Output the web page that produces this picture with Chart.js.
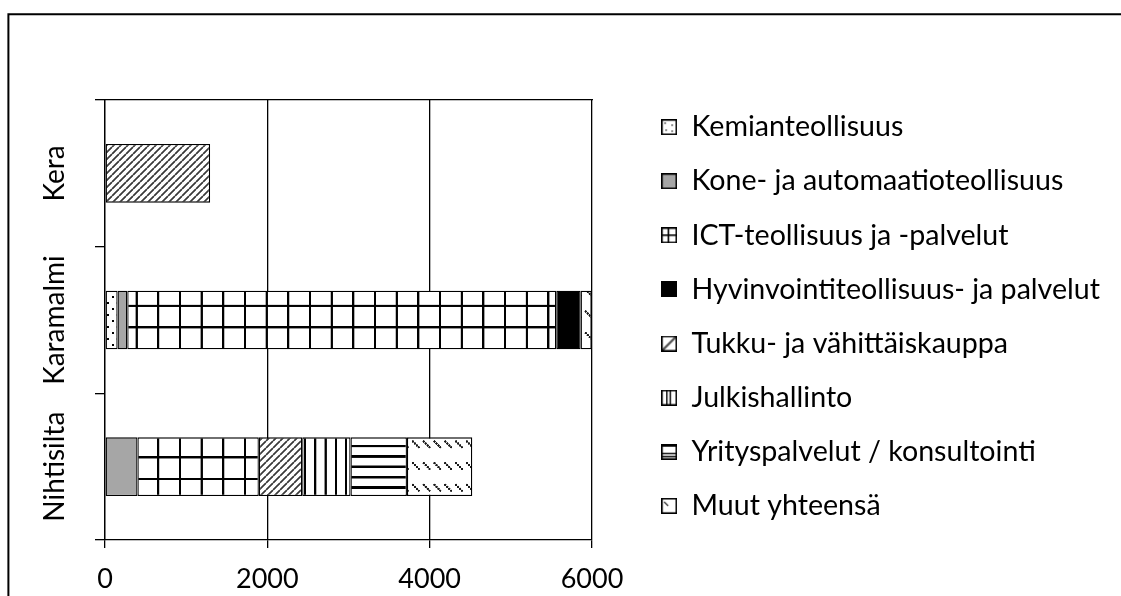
<!DOCTYPE html>
<html>
<head>
<meta charset="utf-8">
<script src="https://cdn.jsdelivr.net/npm/chart.js@4.4.1/dist/chart.umd.min.js"></script>
<style>
  html, body { margin: 0; padding: 0; background: #fff; }
  canvas { display: block; }
</style>
</head>
<body>
<canvas id="chart" width="1121" height="596"></canvas>
<script>
// Employees by sector at each campus area
const categories = ['Kera', 'Karamalmi', 'Nihtisilta'];
const sectorNames = [
  'Kemianteollisuus',
  'Kone- ja automaatioteollisuus',
  'ICT-teollisuus ja -palvelut',
  'Hyvinvointiteollisuus- ja palvelut',
  'Tukku- ja vähittäiskauppa',
  'Julkishallinto',
  'Yrityspalvelut / konsultointi',
  'Muut yhteensä'
];
const kemianteollisuus = [null, 155, null];
const koneJaAutomaatio = [null, 120, 400];
const ictPalvelut      = [null, 5285, 1495];
const hyvinvointi      = [null, 300, null];
const tukkuJaVahittais = [1295, null, 535];
const julkishallinto   = [null, null, 595];
const yrityspalvelut   = [null, null, 695];
const muutYhteensa     = [null, 135, 805];
const valueTicks = [0, 2000, 4000, 6000];

// ---- hatch fills -------------------------------------------------------
const SS = 4; // supersampling of each tile
function tilePattern(w, h, ox, oy, paint) {
  const cv = document.createElement('canvas');
  cv.width = Math.round(w * SS);
  cv.height = Math.round(h * SS);
  const g = cv.getContext('2d');
  const sx = cv.width / w, sy = cv.height / h;
  g.setTransform(sx, 0, 0, sy, 0, 0);
  g.fillStyle = '#fff';
  g.fillRect(0, 0, w, h);
  g.fillStyle = '#000';
  g.strokeStyle = '#000';
  paint(g, w, h);
  const p = g.createPattern(cv, 'repeat');
  p.setTransform(new DOMMatrix([1 / sx, 0, 0, 1 / sy, ox, oy]));
  return p;
}
function dot(g, x, y, r) { g.beginPath(); g.arc(x, y, r, 0, Math.PI * 2); g.fill(); }

const fillDots = tilePattern(9.6, 12, 0, 0, g => { dot(g, 2.4, 3, 1.15); dot(g, 7.2, 9, 1.15); });
const fillGrey = '#a6a6a6';
const fillGrid = tilePattern(21.67, 21.67, 5.5, 1.2, (g, w, h) => { g.fillRect(0, 0, 2.2, h); g.fillRect(0, 0, w, 2.2); });
const fillBlack = '#000';
const fillUpDiag = tilePattern(7, 7, 0, 0, (g, w, h) => {
  g.lineWidth = 1.6; g.strokeStyle = '#3a3a3a';
  for (let k = -1; k <= 1; k++) { g.beginPath(); g.moveTo(k * w, h); g.lineTo(k * w + w, 0); g.stroke(); }
});
const fillVert = tilePattern(10.3, 6, 5.2, 0, (g, w, h) => g.fillRect(0, 0, 2.2, h));
const fillHoriz = tilePattern(6, 10.4, 0, 7.9, (g, w) => g.fillRect(0, 0, w, 2.6));
const fillDashDown = tilePattern(10.8, 21.67, 0, 1.6, g => {
  g.fillStyle = '#1a1a1a';
  dot(g, 2.5, 6.5, 1.2); dot(g, 4.5, 8.5, 1.2); dot(g, 6.5, 10.5, 1.2); dot(g, 8.3, 12.3, 1.1);
});

// ---- small legend swatches --------------------------------------------
function swatch(paint) {
  const c = document.createElement('canvas');
  c.width = 16; c.height = 16;
  const g = c.getContext('2d');
  g.fillStyle = '#fff'; g.fillRect(0, 0, 16, 16);
  g.fillStyle = '#000'; g.strokeStyle = '#000';
  paint(g);
  g.lineWidth = 1.6; g.strokeStyle = '#000';
  g.strokeRect(0.8, 0.8, 14.4, 14.4);
  return c;
}
const swDots = swatch(g => { dot(g, 4, 4, 0.8); dot(g, 11, 6, 0.8); dot(g, 5, 11, 0.8); dot(g, 11, 12, 0.8); });
const swGrey = swatch(g => { g.fillStyle = '#a6a6a6'; g.fillRect(0, 0, 16, 16); });
const swGrid = swatch(g => { g.fillRect(6.5, 0, 1.6, 16); g.fillRect(0, 7, 16, 1.6); });
const swBlack = swatch(g => { g.fillRect(0, 0, 16, 16); });
const swUpDiag = swatch(g => { g.lineWidth = 2.4; g.strokeStyle = '#555'; g.beginPath(); g.moveTo(1, 15); g.lineTo(15, 1); g.stroke(); });
const swVert = swatch(g => { g.fillRect(5, 0, 1.4, 16); g.fillRect(8.5, 0, 1.4, 16); });
const swHoriz = swatch(g => { g.fillRect(0, 1, 16, 2); g.fillRect(0, 9, 16, 1.4); g.fillRect(0, 12, 16, 1.4); });
const swDashDown = swatch(g => { g.lineWidth = 1.3; g.strokeStyle = '#333'; g.beginPath(); g.moveTo(3, 4); g.lineTo(7, 8); g.stroke(); });

const seriesValues = [kemianteollisuus, koneJaAutomaatio, ictPalvelut, hyvinvointi, tukkuJaVahittais, julkishallinto, yrityspalvelut, muutYhteensa];
const seriesFills = [fillDots, fillGrey, fillGrid, fillBlack, fillUpDiag, fillVert, fillHoriz, fillDashDown];
const seriesSwatches = [swDots, swGrey, swGrid, swBlack, swUpDiag, swVert, swHoriz, swDashDown];

// outer frame of the chart object
const framePlugin = {
  id: 'frame',
  beforeDraw(chart) {
    const ctx = chart.ctx;
    ctx.save();
    ctx.strokeStyle = '#000';
    ctx.lineWidth = 2;
    ctx.beginPath();
    ctx.moveTo(8.4, chart.height + 5);
    ctx.lineTo(8.4, 14.2);
    ctx.lineTo(chart.width + 5, 14.2);
    ctx.stroke();
    ctx.restore();
  }
};

Chart.defaults.font.family = 'Lato';
Chart.defaults.color = '#000';

const PLOT_RIGHT = 592;
const LEGEND_RIGHT_PAD = 11;

new Chart(document.getElementById('chart'), {
  type: 'bar',
  data: {
    labels: categories,
    datasets: sectorNames.map((name, i) => ({
      label: name,
      data: seriesValues[i],
      backgroundColor: seriesFills[i],
      borderColor: '#000',
      borderWidth: 1.3,
      borderSkipped: false,
      pointStyle: seriesSwatches[i],
      barPercentage: 0.4,
      categoryPercentage: 1
    }))
  },
  options: {
    indexAxis: 'y',
    responsive: false,
    animation: false,
    events: [],
    layout: { padding: { left: 0, top: 37, right: LEGEND_RIGHT_PAD, bottom: 0 } },
    plugins: {
      tooltip: { enabled: false },
      legend: {
        position: 'right',
        align: 'center',
        maxWidth: 600,
        labels: {
          usePointStyle: true,
          boxWidth: 16,
          boxHeight: 16,
          padding: 25.5,
          color: '#000',
          font: { family: 'Lato', size: 28.6 }
        }
      }
    },
    scales: {
      x: {
        type: 'linear',
        position: 'bottom',
        stacked: true,
        min: 0,
        max: 6000,
        afterBuildTicks(s) { s.ticks = valueTicks.map(v => ({ value: v })); },
        afterFit(s) { s.height = 56; },
        grid: { color: '#000', lineWidth: 1.3, tickLength: 8 },
        border: { color: '#000', width: 1.3 },
        ticks: { padding: 15, color: '#000', font: { size: 27 }, callback: v => String(v) }
      },
      y: {
        type: 'category',
        stacked: true,
        afterFit(s) { s.width = 105; },
        grid: { offset: true, drawOnChartArea: false, color: '#000', lineWidth: 1.3, tickLength: 10 },
        border: { color: '#000', width: 1.3 },
        ticks: { minRotation: 90, maxRotation: 90, crossAlign: 'center', padding: -25, color: '#000', font: { size: 28 } }
      },
      xTop: {
        type: 'linear',
        position: 'top',
        min: 0,
        max: 6000,
        grid: { display: false },
        ticks: { display: false },
        border: { color: '#000', width: 1.3 },
        afterFit(s) { s.height = 63; }
      },
      yGap: {
        type: 'linear',
        position: 'right',
        grid: { display: false },
        ticks: { display: false },
        border: { display: false },
        afterFit(s) {
          const lw = s.chart.legend ? s.chart.legend.width : 0;
          s.width = Math.max(0, s.chart.width - LEGEND_RIGHT_PAD - lw - PLOT_RIGHT);
        }
      }
    }
  },
  plugins: [framePlugin]
});
</script>
</body>
</html>
